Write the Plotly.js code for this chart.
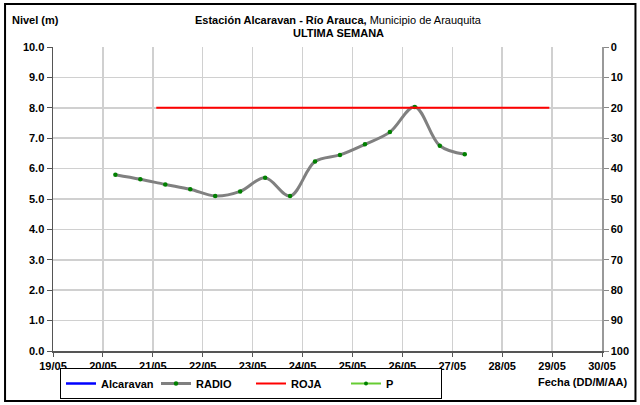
<!DOCTYPE html>
<html>
<head>
<meta charset="utf-8">
<script src="https://cdn.plot.ly/plotly-3.0.1.min.js"></script>
<style>
html,body{margin:0;padding:0;background:#fff;}
#chart{width:640px;height:405px;}
</style>
</head>
<body>
<div id="chart"></div>
<script>
// Data
const fechas = [
  "2014-05-20 06:00","2014-05-20 18:00","2014-05-21 06:00","2014-05-21 18:00",
  "2014-05-22 06:00","2014-05-22 18:00","2014-05-23 06:00","2014-05-23 18:00",
  "2014-05-24 06:00","2014-05-24 18:00","2014-05-25 06:00","2014-05-25 18:00",
  "2014-05-26 06:00","2014-05-26 18:00","2014-05-27 06:00"
];
const radio = [5.80, 5.65, 5.48, 5.32, 5.10, 5.25, 5.70, 5.10, 6.23, 6.45, 6.80, 7.20, 8.03, 6.75, 6.47];
const rojaFechas = ["2014-05-21 01:40", "2014-05-28 22:40"];
const rojaValores = [8.0, 8.0];
const yTicks = [0,1,2,3,4,5,6,7,8,9,10];
const y2Ticks = [0,10,20,30,40,50,60,70,80,90,100];

const L = 53, R = 602.5, T = 47, B = 351;
const pw = R - L, ph = B - T;
const px = v => (v - L) / pw;
const py = v => (B - v) / ph;

const fontB = {family: "Liberation Sans, Arial, sans-serif", size: 11, color: "#000", weight: "bold"};

const traces = [
  {name: "Alcaravan", x: [null], y: [null], mode: "lines", line: {color: "#0000ff", width: 2.5}, type: "scatter"},
  {name: "RADIO", x: fechas, y: radio, mode: "lines+markers", type: "scatter",
   line: {color: "#808080", width: 3, shape: "spline", smoothing: 1},
   marker: {color: "#008000", size: 4.5}},
  {name: "ROJA", x: rojaFechas, y: rojaValores, mode: "lines", type: "scatter",
   line: {color: "#ff0000", width: 2}},
  {name: "P", x: [null], y: [null], mode: "lines+markers", type: "scatter", yaxis: "y2",
   line: {color: "#66cc33", width: 2}, marker: {color: "#008000", size: 4}}
];

const layout = {
  width: 640, height: 405,
  margin: {l: L, r: 640 - R, t: T, b: 405 - B, pad: 0, autoexpand: false},
  paper_bgcolor: "#fff", plot_bgcolor: "#fff",
  font: {family: "Liberation Sans, Arial, sans-serif", size: 11, color: "#000"},
  showlegend: true,
  xaxis: {
    type: "date",
    range: ["2014-05-19 00:00", "2014-05-30 00:00"],
    dtick: 86400000, tick0: "2014-05-19",
    tickformat: "%d/%m",
    tickfont: fontB,
    ticks: "outside", ticklen: 4, tickcolor: "#555",
    showgrid: true, gridcolor: "#d0d0d0", gridwidth: 1.5,
    showline: true, linecolor: "#555", linewidth: 1.5,
    zeroline: false, fixedrange: true, automargin: false
  },
  yaxis: {
    range: [0, 10], tickvals: yTicks, ticktext: yTicks.map(v => v.toFixed(1)),
    tickfont: fontB,
    ticks: "outside", ticklen: 5, tickcolor: "#555",
    showgrid: true, gridcolor: "#d0d0d0", gridwidth: 1.5,
    showline: true, linecolor: "#555", linewidth: 1.5,
    zeroline: false, fixedrange: true, automargin: false
  },
  yaxis2: {
    overlaying: "y", side: "right",
    range: [100, 0], tickvals: y2Ticks, ticktext: y2Ticks.map(String),
    tickfont: fontB,
    ticks: "outside", ticklen: 5, tickcolor: "#888",
    showgrid: false, showline: true, linecolor: "#999", linewidth: 1.5,
    zeroline: false, fixedrange: true, automargin: false
  },
  legend: {
    orientation: "h",
    xref: "container", yref: "container",
    x: 60/640, xanchor: "left",
    y: 1 - 368/405, yanchor: "top",
    bordercolor: "#000", borderwidth: 1,
    bgcolor: "#fff",
    font: fontB,
    itemwidth: 30,
    entrywidth: 50,
    tracegroupgap: 0
  },
  annotations: [
    {text: "<b>Estación Alcaravan - Río Arauca,</b> Municipio de Arauquita", xref: "paper", yref: "paper",
     x: px(339), y: py(20), xanchor: "center", yanchor: "middle", showarrow: false, font: {size: 11}},
    {text: "<b>ULTIMA SEMANA</b>", xref: "paper", yref: "paper",
     x: px(339), y: py(33), xanchor: "center", yanchor: "middle", showarrow: false, font: {size: 11}},
    {text: "<b>Nivel (m)</b>", xref: "paper", yref: "paper", x: px(10), y: py(20),
     xanchor: "left", yanchor: "middle", showarrow: false, font: {size: 11}},
    {text: "<b>Fecha (DD/M/AA)</b>", xref: "paper", yref: "paper", x: px(631), y: py(382),
     xanchor: "right", yanchor: "middle", showarrow: false, font: {size: 11}}
  ],
  shapes: [
    {type: "rect", xref: "paper", yref: "paper",
     x0: px(5), x1: px(636), y0: py(401), y1: py(4),
     line: {color: "#000", width: 2}, fillcolor: "rgba(0,0,0,0)", layer: "below"}
  ]
};

Plotly.newPlot("chart", traces, layout, {displayModeBar: false, staticPlot: true});
</script>
</body>
</html>
